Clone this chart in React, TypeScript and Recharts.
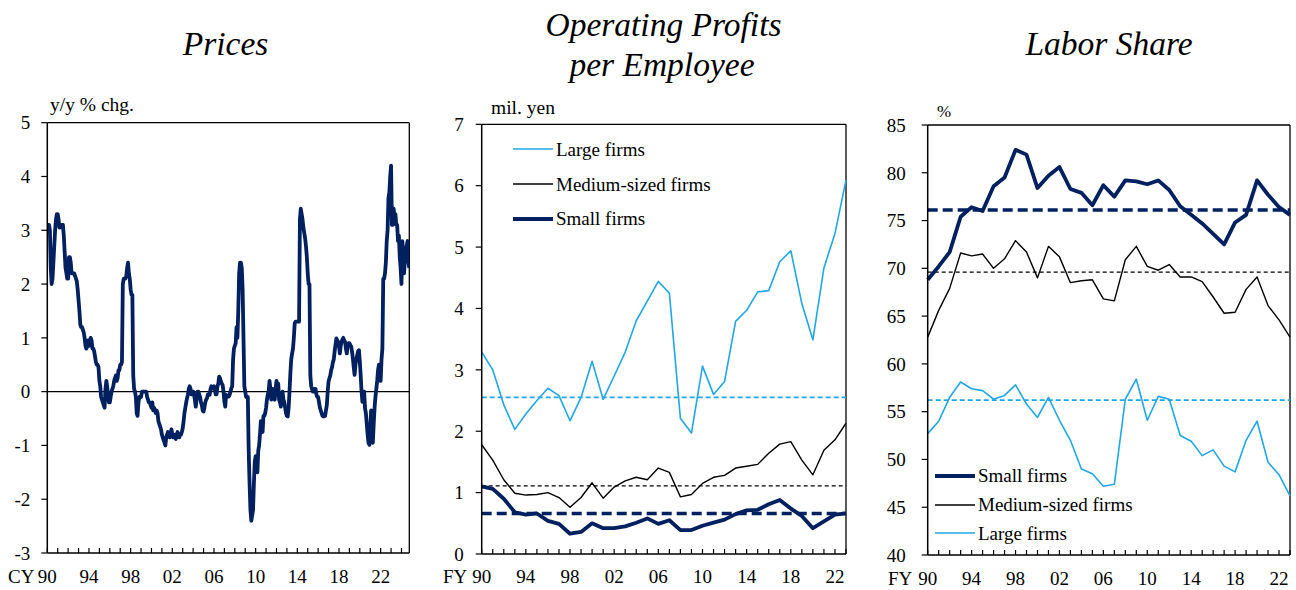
import React from 'react';
import { LineChart, Line, XAxis, YAxis, ReferenceLine, Legend } from 'recharts';

const NAVY = '#002060';
const SKY = '#21A6E6';
const BLACK = '#000000';
const FONT = '"Liberation Serif", "Times New Roman", Times, serif';

// ---------- Prices: CPI y/y % chg., monthly from Jan 1990 ----------
const priceStartYear = 1990;
const priceYoY: number[] = [
  // 1990
  3.1, 3.1, 3.1, 3.0, 2.3, 2.0, 2.1, 2.4, 2.7, 3.0, 3.2, 3.3,
  // 1991
  3.3, 3.2, 3.05, 3.1, 3.1, 3.05, 3.1, 2.9, 2.6, 2.3, 2.2, 2.1,
  // 1992
  2.1, 2.5, 2.5, 2.4, 2.2, 2.2, 2.2, 2.2, 2.15, 2.1, 2.05, 1.9,
  // 1993
  1.7, 1.5, 1.25, 1.2, 1.2, 1.15, 1.1, 1.0, 0.85, 0.8, 0.85, 0.95,
  // 1994
  0.85, 0.95, 1.0, 0.95, 0.8, 0.8, 0.75, 0.65, 0.55, 0.5, 0.5, 0.45,
  // 1995
  0.2, 0.1, -0.1, -0.15, -0.2, -0.25, -0.3, 0.05, 0.2, 0.1, -0.1, -0.2,
  // 1996
  -0.2, -0.1, 0.0, 0.05, 0.1, 0.2, 0.25, 0.3, 0.2, 0.25, 0.4, 0.4,
  // 1997
  0.5, 0.5, 0.55, 2.0, 2.1, 2.1, 2.1, 2.15, 2.3, 2.4, 2.2, 2.1,
  // 1998
  1.9, 1.8, 1.8, 0.3, 0.05, 0.0, -0.1, -0.4, -0.45, -0.2, -0.1, -0.1,
  // 1999
  -0.1, 0.0, 0.0, 0.0, 0.0, 0.0, 0.0, -0.1, -0.15, -0.2, -0.2, -0.25,
  // 2000
  -0.3, -0.2, -0.35, -0.3, -0.35, -0.4, -0.35, -0.4, -0.55, -0.6, -0.65, -0.7,
  // 2001
  -0.8, -0.85, -0.9, -0.95, -1.0, -0.85, -0.8, -0.75, -0.8, -0.85, -0.8, -0.7,
  // 2002
  -0.8, -0.85, -0.8, -0.85, -0.88, -0.8, -0.75, -0.8, -0.85, -0.8, -0.8, -0.75,
  // 2003
  -0.68, -0.55, -0.4, -0.3, -0.2, -0.12, -0.05, 0.05, 0.1, 0.05, -0.05, 0.0,
  // 2004
  0.0, -0.05, -0.15, -0.28, -0.15, 0.0, 0.0, -0.05, -0.1, -0.2, -0.25, -0.35,
  // 2005
  -0.37, -0.3, -0.2, -0.15, -0.12, -0.05, -0.05, -0.06, 0.05, 0.1, 0.06, 0.08,
  // 2006
  0.1, 0.05, -0.05, -0.05, 0.1, 0.15, 0.28, 0.25, 0.19, 0.15, 0.12, 0.0,
  // 2007
  -0.19, -0.28, -0.06, -0.08, -0.09, -0.09, -0.06, 0.0, 0.06, 0.1, 0.6, 0.8,
  // 2008
  0.85, 0.9, 1.2, 1.0, 1.5, 2.2, 2.4, 2.4, 2.3, 1.9, 1.0, 0.1,
  // 2009
  0.0, -0.1, -0.1, -0.1, -1.1, -1.7, -2.2, -2.4, -2.3, -2.2, -1.7, -1.3,
  // 2010
  -1.2, -1.3, -1.5, -1.1, -1.0, -0.8, -0.55, -0.65, -0.75, -0.45, -0.45, -0.4,
  // 2011
  -0.3, -0.15, -0.05, 0.0, 0.2, 0.05, -0.15, 0.0, 0.05, -0.1, -0.15, 0.05,
  // 2012
  0.2, 0.1, 0.15, -0.15, -0.2, -0.28, -0.1, 0.0, -0.15, -0.2, -0.3, -0.4,
  // 2013
  -0.45, -0.46, -0.3, 0.0, 0.34, 0.6, 0.71, 0.8, 1.0, 1.27, 1.3, 1.3,
  // 2014
  1.3, 1.3, 1.3, 3.2, 3.4, 3.3, 3.2, 3.05, 2.95, 2.85, 2.7, 2.5,
  // 2015
  2.2, 2.0, 2.0, 0.3, 0.1, 0.05, 0.0, 0.0, 0.05, 0.05, -0.05, -0.1,
  // 2016
  -0.1, -0.2, -0.3, -0.35, -0.4, -0.45, -0.46, -0.46, -0.45, -0.35, -0.25, 0.0,
  // 2017
  0.19, 0.25, 0.3, 0.4, 0.45, 0.55, 0.6, 0.75, 0.87, 0.99, 0.95, 0.93,
  // 2018
  0.85, 0.71, 0.85, 0.93, 0.97, 1.0, 0.95, 0.93, 0.8, 0.71, 0.87, 0.9,
  // 2019
  0.9, 0.87, 0.84, 0.75, 0.62, 0.45, 0.31, 0.5, 0.6, 0.68, 0.75, 0.77,
  // 2020
  0.56, 0.3, 0.0, -0.19, -0.1, 0.0, -0.31, -0.4, -0.6, -0.8, -0.95, -0.99,
  // 2021
  -0.7, -0.35, -0.5, -0.95, -0.6, -0.3, -0.1, 0.05, 0.2, 0.4, 0.5, 0.3,
  // 2022
  0.2, 0.6, 0.8, 2.1, 2.1, 2.2, 2.4, 2.8, 3.0, 3.6, 3.7, 4.0,
  // 2023
  4.2, 3.1, 3.1, 3.4, 3.2, 3.3, 3.1, 3.1, 2.8, 2.9, 2.5, 2.3,
  // 2024
  2.0, 2.8, 2.6, 2.2, 2.5, 2.6, 2.7, 2.8, 2.4, 2.3,
];

// ---------- Fiscal-year panels ----------
const fiscalYears = [
  1990, 1991, 1992, 1993, 1994, 1995, 1996, 1997, 1998, 1999,
  2000, 2001, 2002, 2003, 2004, 2005, 2006, 2007, 2008, 2009,
  2010, 2011, 2012, 2013, 2014, 2015, 2016, 2017, 2018, 2019,
  2020, 2021, 2022, 2023,
];

// Operating profits per employee (mil. yen)
const profitLarge = [
  3.29, 3.0, 2.43, 2.03, 2.28, 2.5, 2.7, 2.58, 2.17, 2.55,
  3.14, 2.52, 2.9, 3.29, 3.8, 4.12, 4.44, 4.25, 2.21, 1.97,
  3.06, 2.6, 2.81, 3.79, 3.97, 4.27, 4.29, 4.76, 4.94, 4.08,
  3.49, 4.66, 5.22, 6.09,
];
const profitMedium = [
  1.78, 1.53, 1.21, 0.99, 0.96, 0.97, 1.0, 0.92, 0.76, 0.92,
  1.16, 0.91, 1.09, 1.19, 1.25, 1.21, 1.4, 1.33, 0.93, 0.97,
  1.15, 1.25, 1.28, 1.4, 1.43, 1.46, 1.64, 1.79, 1.83, 1.53,
  1.29, 1.69, 1.86, 2.13,
];
const profitSmall = [
  1.1, 1.06, 0.9, 0.68, 0.64, 0.66, 0.54, 0.49, 0.33, 0.36,
  0.5, 0.42, 0.42, 0.45, 0.51, 0.58, 0.49, 0.55, 0.39, 0.39,
  0.46, 0.51, 0.56, 0.65, 0.71, 0.72, 0.81, 0.88, 0.74, 0.62,
  0.42, 0.53, 0.64, 0.66,
];
const profitAvgLarge = 2.55;
const profitAvgMedium = 1.11;
const profitAvgSmall = 0.66;

// Labor share (%)
const laborSmall = [
  68.8, 70.2, 71.7, 75.4, 76.4, 76.0, 78.6, 79.5, 82.4, 81.9,
  78.4, 79.7, 80.6, 78.3, 77.9, 76.6, 78.7, 77.5, 79.2, 79.1,
  78.8, 79.2, 78.2, 76.5, 75.6, 74.7, 73.6, 72.5, 74.8, 75.6,
  79.2, 77.7, 76.4, 75.6,
];
const laborMedium = [
  62.8, 65.6, 67.9, 71.6, 71.3, 71.5, 70.0, 71.0, 72.9, 71.7,
  69.0, 72.3, 71.2, 68.5, 68.7, 68.8, 66.8, 66.6, 70.9, 72.3,
  70.2, 69.8, 70.4, 69.1, 69.1, 68.6, 67.0, 65.3, 65.4, 67.8,
  69.1, 66.1, 64.6, 62.8,
];
const laborLarge = [
  52.7, 54.0, 56.5, 58.1, 57.4, 57.2, 56.3, 56.7, 57.8, 55.8,
  54.4, 56.5, 54.1, 52.0, 49.0, 48.5, 47.2, 47.4, 56.3, 58.4,
  54.1, 56.6, 56.3, 52.5, 51.9, 50.4, 51.0, 49.3, 48.7, 52.0,
  54.0, 49.7, 48.4, 46.2,
];
const laborAvgSmall = 76.1;
const laborAvgMedium = 69.6;
const laborAvgLarge = 56.2;

// ---------- Axis ticks / labels ----------
const priceYTicks = [-3, -2, -1, 0, 1, 2, 3, 4, 5];
const profitYTicks = [0, 1, 2, 3, 4, 5, 6, 7];
const laborYTicks = [40, 45, 50, 55, 60, 65, 70, 75, 80, 85];
const labeledYears = [1990, 1994, 1998, 2002, 2006, 2010, 2014, 2018, 2022];

// ---------- derived tables ----------
const priceData = priceYoY.map((v, i) => ({ t: priceStartYear + i / 12, v }));
const priceEnd = priceStartYear + (priceYoY.length - 1) / 12;
const yearRange = (a: number, b: number) => Array.from({ length: b - a + 1 }, (_, i) => a + i);
const priceXTicks = yearRange(1990, 2024);
const fyTicks = fiscalYears;

const profitData = fiscalYears.map((fy, i) => ({
  fy,
  large: profitLarge[i],
  medium: profitMedium[i],
  small: profitSmall[i],
}));
const laborData = fiscalYears.map((fy, i) => ({
  fy,
  small: laborSmall[i],
  medium: laborMedium[i],
  large: laborLarge[i],
}));

const yearFmt = (v: number) => (labeledYears.includes(Math.round(v)) ? String(Math.round(v)).slice(2) : '');

const tickText = { fill: '#000', fontSize: 19, fontFamily: FONT };
const axisLineStyle = { stroke: '#000', strokeWidth: 1.5 };
const tickLineStyle = { stroke: '#000', strokeWidth: 1.2 };

type LegendItem = { label: string; color: string; width: number };
const profitLegend: LegendItem[] = [
  { label: 'Large firms', color: SKY, width: 1.6 },
  { label: 'Medium-sized firms', color: BLACK, width: 1.4 },
  { label: 'Small firms', color: NAVY, width: 3.8 },
];
const laborLegend: LegendItem[] = [
  { label: 'Small firms', color: NAVY, width: 3.8 },
  { label: 'Medium-sized firms', color: BLACK, width: 1.4 },
  { label: 'Large firms', color: SKY, width: 1.6 },
];

const LegendBox = ({ items, rowH }: { items: LegendItem[]; rowH: number }) => (
  <div style={{ fontFamily: FONT, fontSize: 19, color: '#000', lineHeight: 1 }}>
    {items.map((it) => (
      <div key={it.label} style={{ display: 'flex', alignItems: 'center', height: rowH }}>
        <svg width={43} height={8} style={{ flex: 'none' }}>
          <line x1={0} y1={4} x2={40} y2={4} stroke={it.color} strokeWidth={it.width} />
        </svg>
        <span style={{ whiteSpace: 'nowrap' }}>{it.label}</span>
      </div>
    ))}
  </div>
);

const PricesChart = () => {
  const W = 420;
  const H = 590;
  const plotL = 47.3;
  const plotR = 409.3;
  const plotT = 122.7;
  const plotB = 553;
  return (
    <LineChart width={W} height={H} data={priceData} margin={{ top: plotT, right: W - plotR, bottom: 0, left: 0 }}>
      <XAxis
        dataKey="t"
        type="number"
        domain={[priceStartYear, priceEnd]}
        ticks={priceXTicks}
        interval={0}
        tickFormatter={yearFmt}
        height={H - plotB}
        tickSize={-5}
        tickMargin={22}
        axisLine={axisLineStyle}
        tickLine={tickLineStyle}
        tick={tickText}
        allowDataOverflow
      />
      <YAxis
        type="number"
        domain={[-3, 5]}
        ticks={priceYTicks}
        interval={0}
        width={plotL}
        tickSize={6}
        tickMargin={11}
        axisLine={axisLineStyle}
        tickLine={tickLineStyle}
        tick={tickText}
        allowDataOverflow
      />
      <ReferenceLine y={5} stroke="#000" strokeWidth={1.3} />
      <ReferenceLine x={priceEnd} stroke="#000" strokeWidth={1.3} />
      <ReferenceLine y={0} stroke="#000" strokeWidth={1.3} />
      <Line
        type="linear"
        dataKey="v"
        stroke={NAVY}
        strokeWidth={3.8}
        strokeLinejoin="round"
        dot={false}
        isAnimationActive={false}
      />
    </LineChart>
  );
};

const ProfitChart = () => {
  const W = 430;
  const H = 590;
  const plotL = 51.7;
  const plotR = 416;
  const plotT = 124.3;
  const plotB = 554;
  return (
    <LineChart width={W} height={H} data={profitData} margin={{ top: plotT, right: W - plotR, bottom: 0, left: 0 }}>
      <XAxis
        dataKey="fy"
        type="number"
        domain={[1990, 2023]}
        ticks={fyTicks}
        interval={0}
        tickFormatter={yearFmt}
        height={H - plotB}
        tickSize={-5}
        tickMargin={21}
        axisLine={axisLineStyle}
        tickLine={tickLineStyle}
        tick={tickText}
      />
      <YAxis
        type="number"
        domain={[0, 7]}
        ticks={profitYTicks}
        interval={0}
        width={plotL}
        tickSize={6}
        tickMargin={12}
        axisLine={axisLineStyle}
        tickLine={tickLineStyle}
        tick={tickText}
      />
      <ReferenceLine y={7} stroke="#000" strokeWidth={1.3} />
      <ReferenceLine x={2023} stroke="#000" strokeWidth={1.3} />
      <ReferenceLine y={profitAvgLarge} stroke={SKY} strokeWidth={1.8} strokeDasharray="5 3" />
      <ReferenceLine y={profitAvgMedium} stroke={BLACK} strokeWidth={1.4} strokeDasharray="4 3" />
      <ReferenceLine y={profitAvgSmall} stroke={NAVY} strokeWidth={3.6} strokeDasharray="10 5" />
      <Line type="linear" dataKey="large" stroke={SKY} strokeWidth={1.6} dot={false} isAnimationActive={false} strokeLinejoin="round" />
      <Line type="linear" dataKey="medium" stroke={BLACK} strokeWidth={1.4} dot={false} isAnimationActive={false} strokeLinejoin="round" />
      <Line type="linear" dataKey="small" stroke={NAVY} strokeWidth={3.8} dot={false} isAnimationActive={false} strokeLinejoin="round" />
      <Legend
        layout="vertical"
        align="center"
        verticalAlign="middle"
        wrapperStyle={{ left: 83, top: 132, width: 'auto', height: 'auto' }}
        content={() => <LegendBox items={profitLegend} rowH={34.7} />}
      />
    </LineChart>
  );
};

const LaborChart = () => {
  const W = 436;
  const H = 590;
  const plotL = 67.7;
  const plotR = 430;
  const plotT = 125;
  const plotB = 555;
  return (
    <LineChart width={W} height={H} data={laborData} margin={{ top: plotT, right: W - plotR, bottom: 0, left: 0 }}>
      <XAxis
        dataKey="fy"
        type="number"
        domain={[1990, 2023]}
        ticks={fyTicks}
        interval={0}
        tickFormatter={yearFmt}
        height={H - plotB}
        tickSize={-5}
        tickMargin={22}
        axisLine={axisLineStyle}
        tickLine={tickLineStyle}
        tick={tickText}
      />
      <YAxis
        type="number"
        domain={[40, 85]}
        ticks={laborYTicks}
        interval={0}
        width={plotL}
        tickSize={6}
        tickMargin={16}
        axisLine={axisLineStyle}
        tickLine={tickLineStyle}
        tick={tickText}
      />
      <ReferenceLine y={85} stroke="#000" strokeWidth={1.3} />
      <ReferenceLine x={2023} stroke="#000" strokeWidth={1.3} />
      <ReferenceLine y={laborAvgSmall} stroke={NAVY} strokeWidth={3.6} strokeDasharray="10 5" />
      <ReferenceLine y={laborAvgMedium} stroke={BLACK} strokeWidth={1.4} strokeDasharray="4 3" />
      <ReferenceLine y={laborAvgLarge} stroke={SKY} strokeWidth={1.8} strokeDasharray="5 3" />
      <Line type="linear" dataKey="large" stroke={SKY} strokeWidth={1.6} dot={false} isAnimationActive={false} strokeLinejoin="round" />
      <Line type="linear" dataKey="medium" stroke={BLACK} strokeWidth={1.4} dot={false} isAnimationActive={false} strokeLinejoin="round" />
      <Line type="linear" dataKey="small" stroke={NAVY} strokeWidth={3.8} dot={false} isAnimationActive={false} strokeLinejoin="round" />
      <Legend
        layout="vertical"
        align="center"
        verticalAlign="middle"
        wrapperStyle={{ left: 75, top: 461.6, width: 'auto', height: 'auto' }}
        content={() => <LegendBox items={laborLegend} rowH={28.7} />}
      />
    </LineChart>
  );
};

const titleStyle: React.CSSProperties = { fontFamily: FONT, fontStyle: 'italic', fontSize: 33.5 };
const unitStyle: React.CSSProperties = { fontFamily: FONT, fontSize: 19.5 };

export default function App() {
  return (
    <div style={{ position: 'absolute', left: 0, top: 0, width: 1296, height: 590, background: '#fff', overflow: 'hidden' }}>
      <div style={{ position: 'absolute', left: 0, top: 0 }}>
        <PricesChart />
      </div>
      <div style={{ position: 'absolute', left: 430, top: 0 }}>
        <ProfitChart />
      </div>
      <div style={{ position: 'absolute', left: 860, top: 0 }}>
        <LaborChart />
      </div>
      <svg
        width={1296}
        height={590}
        style={{ position: 'absolute', left: 0, top: 0, pointerEvents: 'none' }}
      >
        <text x={225.5} y={55} textAnchor="middle" style={titleStyle}>Prices</text>
        <text x={663.5} y={36} textAnchor="middle" style={titleStyle}>Operating Profits</text>
        <text x={662} y={76} textAnchor="middle" style={titleStyle}>per Employee</text>
        <text x={1109} y={55} textAnchor="middle" style={titleStyle}>Labor Share</text>
        <text x={50} y={111} style={unitStyle}>y/y % chg.</text>
        <text x={491} y={114} style={unitStyle}>mil. yen</text>
        <text x={937} y={116.5} style={{ fontFamily: FONT, fontSize: 17 }}>%</text>
        <text x={8} y={583} style={{ fontFamily: FONT, fontSize: 19 }}>CY</text>
        <text x={443} y={583} style={{ fontFamily: FONT, fontSize: 19 }}>FY</text>
        <text x={888} y={585} style={{ fontFamily: FONT, fontSize: 19 }}>FY</text>
      </svg>
    </div>
  );
}
